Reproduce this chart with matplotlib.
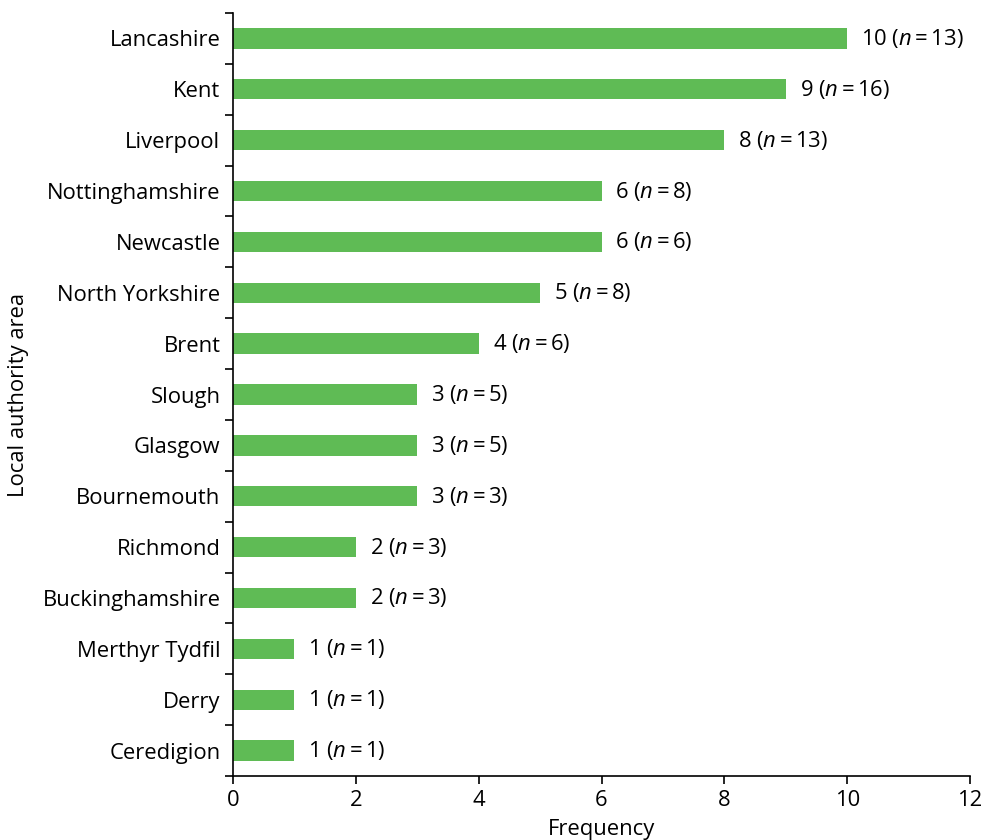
import matplotlib
matplotlib.use("Agg")
import matplotlib.pyplot as plt
import numpy as np

plt.rcParams['font.family'] = ['Open Sans', 'DejaVu Sans']
plt.rcParams['mathtext.fontset'] = 'custom'
plt.rcParams['mathtext.rm'] = 'Open Sans'
plt.rcParams['mathtext.it'] = 'Open Sans:italic'

# data, top to bottom as in the figure
areas = ["Lancashire", "Kent", "Liverpool", "Nottinghamshire", "Newcastle",
         "North Yorkshire", "Brent", "Slough", "Glasgow", "Bournemouth",
         "Richmond", "Buckinghamshire", "Merthyr Tydfil", "Derry", "Ceredigion"]
freq = [10, 9, 8, 6, 6, 5, 4, 3, 3, 3, 2, 2, 1, 1, 1]
n_vals = [13, 16, 13, 8, 6, 8, 6, 5, 5, 3, 3, 3, 1, 1, 1]

bar_color = "#5fbb55"
fs = 15.8

fig = plt.figure(figsize=(9.86, 8.4), dpi=100)
ax = fig.add_axes([0.2363, 0.0762, 0.7475, 0.9083])

y = np.arange(len(areas))[::-1]
ax.barh(y, freq, height=0.4, color=bar_color)

for yi, f, n in zip(y, freq, n_vals):
    ax.annotate(f"{f} ($\\it{{n}}$\u2009=\u2009{n})", (f, yi), xytext=(10, 0),
                textcoords="offset points", va="center", ha="left", fontsize=fs)

ax.set_xlim(0, 12)
ax.set_ylim(-0.5, len(areas) - 0.5)
ax.set_xticks([0, 2, 4, 6, 8, 10, 12])
ax.set_yticks(y)
ax.set_yticklabels(areas)
ax.tick_params(axis='y', length=0, pad=9, labelsize=fs)
ax.set_yticks(np.arange(len(areas) + 1) - 0.5, minor=True)
ax.tick_params(axis='y', which='minor', length=6, width=1.2, direction='out')
ax.tick_params(axis='x', length=6, width=1.2, direction='out', labelsize=fs, pad=4)

for s in ['top', 'right']:
    ax.spines[s].set_visible(False)
for s in ['left', 'bottom']:
    ax.spines[s].set_linewidth(1.2)

ax.set_xlabel("Frequency", fontsize=fs, labelpad=6)
ax.set_ylabel("Local authority area", fontsize=fs, labelpad=10)

fig.savefig("out.png", dpi=100)
